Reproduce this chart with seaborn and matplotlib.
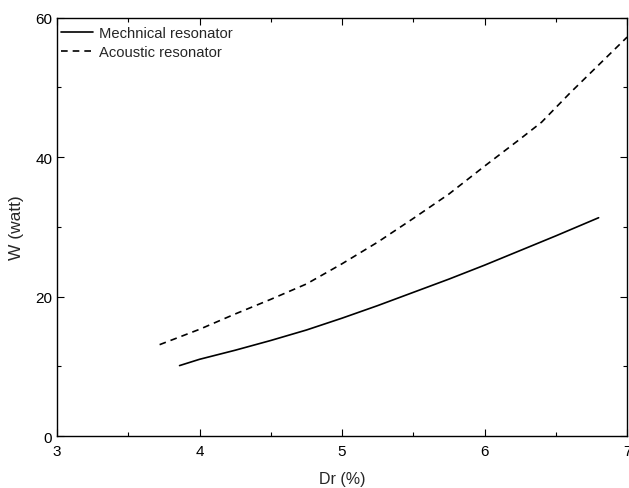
import numpy as np
import pandas as pd
import seaborn as sns
import matplotlib.pyplot as plt
from matplotlib.ticker import MultipleLocator

# values
mech_x = [3.86, 4.0, 4.25, 4.5, 4.75, 5.0, 5.25, 5.5, 5.75, 6.0, 6.25, 6.5, 6.8]
mech_y = [10.1, 11.0, 12.3, 13.7, 15.2, 16.9, 18.7, 20.6, 22.5, 24.5, 26.6, 28.7, 31.3]

acou_x = [3.72, 4.0, 4.25, 4.5, 4.75, 5.0, 5.25, 5.5, 5.75, 6.0, 6.25, 6.4, 6.6, 6.8, 7.0]
acou_y = [13.1, 15.3, 17.5, 19.6, 21.8, 24.7, 27.8, 31.2, 34.7, 38.7, 42.6, 45.0, 49.2, 53.2, 57.2]

df = pd.concat([
    pd.DataFrame({'Dr': mech_x, 'W': mech_y, 'series': 'Mechnical resonator'}),
    pd.DataFrame({'Dr': acou_x, 'W': acou_y, 'series': 'Acoustic resonator'}),
])

sns.set_theme(style='ticks')
plt.rcParams['font.family'] = ['Liberation Sans', 'DejaVu Sans']

fig = plt.figure(figsize=(6.29, 4.89), dpi=100)
ax = fig.add_axes([0.0906, 0.1063, 0.9064, 0.8557])

sns.lineplot(data=df, x='Dr', y='W', style='series', color='black',
             dashes={'Mechnical resonator': '', 'Acoustic resonator': (4, 3)},
             linewidth=1.2, sort=False, estimator=None, ax=ax)

ax.set_xlim(3, 7)
ax.set_ylim(0, 60)
ax.xaxis.set_major_locator(MultipleLocator(1))
ax.xaxis.set_minor_locator(MultipleLocator(0.5))
ax.yaxis.set_major_locator(MultipleLocator(20))
ax.yaxis.set_minor_locator(MultipleLocator(10))
ax.tick_params(which='both', direction='in', top=True, right=True,
               labelsize=11, colors='black', width=0.8)
ax.tick_params(which='major', length=5)
ax.tick_params(axis='x', which='major', pad=6)
ax.tick_params(axis='y', which='major', pad=3.5)
ax.tick_params(which='minor', length=3)
for s in ax.spines.values():
    s.set_linewidth(1.0)
    s.set_color('black')

ax.set_xlabel('Dr (%)', fontsize=11.5, labelpad=9)
ax.set_ylabel('W (watt)', fontsize=12.5, labelpad=8)

# legend nudged left so the handles start just inside the axis
leg = ax.legend(loc='upper left', bbox_to_anchor=(-0.007, 1.0), frameon=False,
                fontsize=10.6, handlelength=2.2, handletextpad=0.4,
                labelspacing=0.35, borderaxespad=0.1, borderpad=0.45)
for line in leg.get_lines():
    line.set_linewidth(1.2)

fig.savefig('out.png', dpi=100)
